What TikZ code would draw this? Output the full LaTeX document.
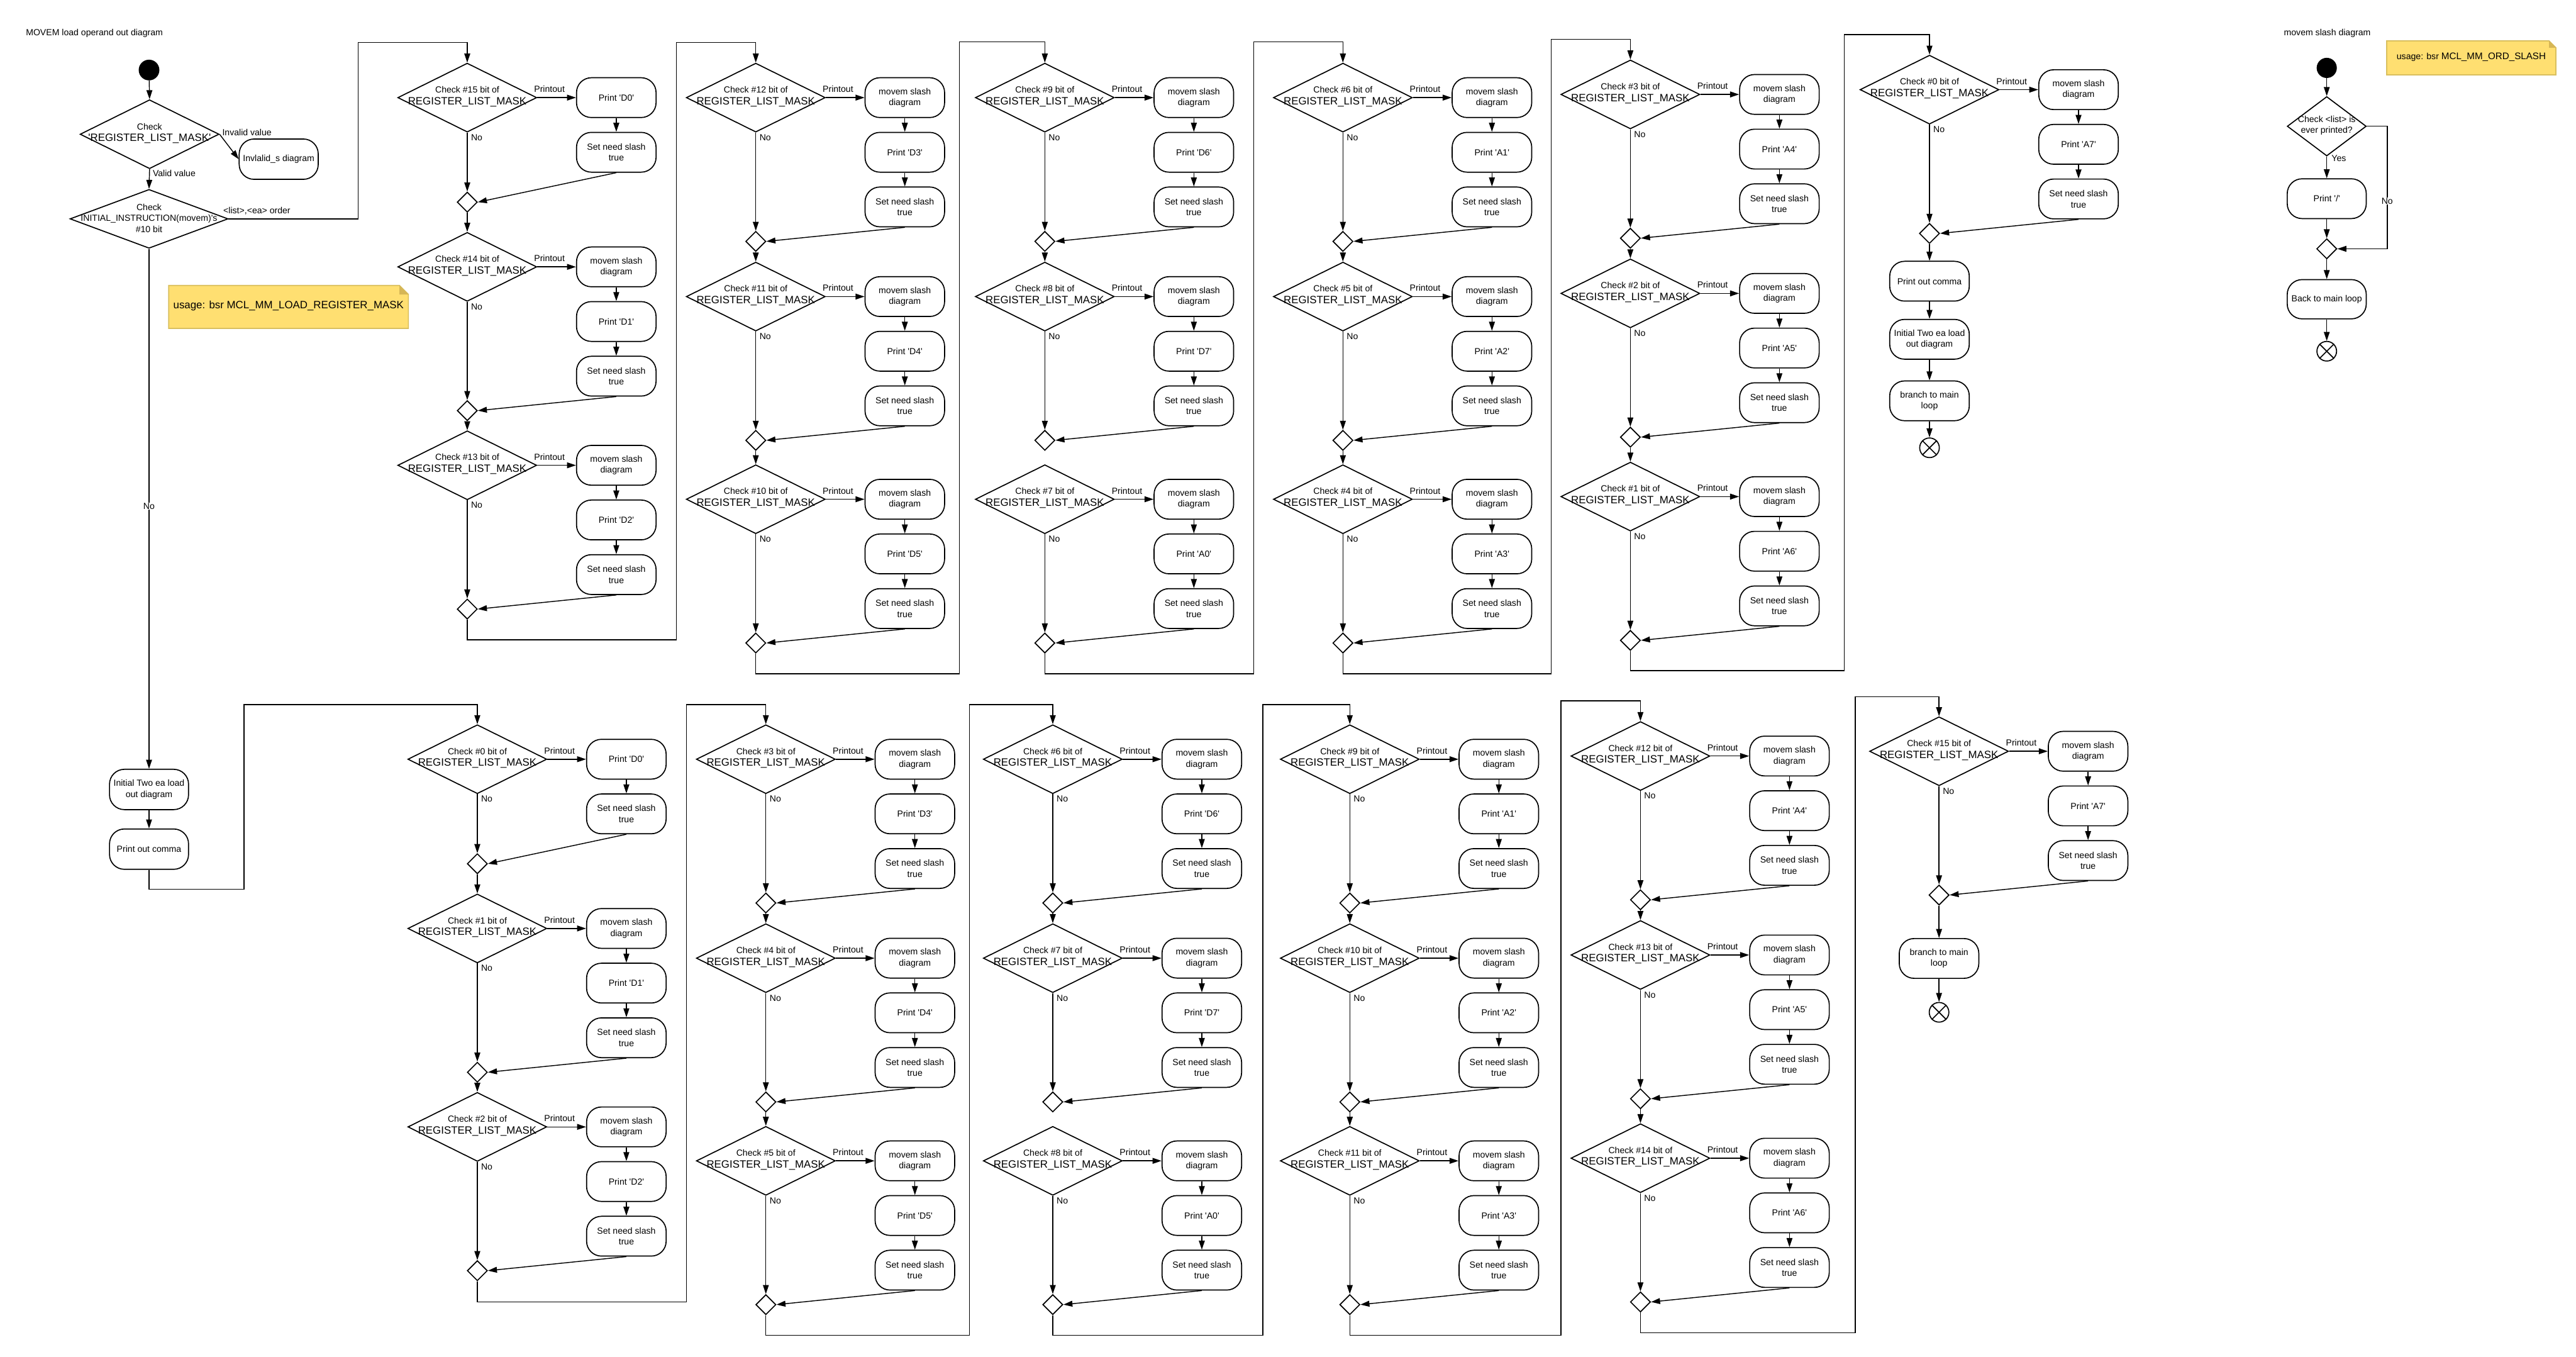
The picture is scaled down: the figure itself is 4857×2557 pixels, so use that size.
\documentclass[tikz,border=0pt]{standalone}
\usepackage{fontspec}
\setmainfont{Liberation Sans}
\usetikzlibrary{arrows.meta,shapes.geometric,calc}
\newcommand{\fs}{\fontsize{16.7}{20.7}\selectfont}
\newcommand{\fr}{\fontsize{20}{24}\selectfont}
\newcommand{\sq}{\textquotesingle}
\definecolor{notefill}{HTML}{FFDF71}
\definecolor{noteline}{HTML}{D9BF5E}
\definecolor{notefold}{HTML}{D6B656}
\tikzset{
  dia/.style={draw, shape=diamond, minimum width=262pt, minimum height=130pt, inner sep=0pt, line width=2pt},
  act/.style={draw, rectangle, rounded corners=28pt, minimum width=150pt, minimum height=75pt, inner sep=0pt, align=center, line width=2pt, font=\fs},
  mrg/.style={draw, shape=diamond, minimum width=38pt, minimum height=38pt, inner sep=0pt, line width=2pt},
  arr/.style={line width=1.7pt, -{Triangle[length=17pt,width=11pt]}},
  lab/.style={font=\fs, inner sep=1pt},
  dtop/.style={font=\fs, inner sep=0pt, align=center},
  dreg/.style={font=\fr, inner sep=0pt},
  startc/.style={circle, fill=black, minimum size=39pt, inner sep=0pt},
  endc/.style={circle, draw, line width=2pt, minimum size=37pt, inner sep=0pt},
}
\newcommand{\blkthree}[5]{%
  \node[dia] (#1) at (#2,#3) {};
  \node[dtop] (#1t) at ($(#1)+(0,-15)$) {Check \##4 bit of};
  \node[dreg] (#1r) at ($(#1)+(0,8)$) {REGISTER\_LIST\_MASK};
  \node[act] (#1a) at ($(#1)+(281,0)$) {movem slash\\diagram};
  \node[act] (#1b) at ($(#1)+(281,103)$) {Print \sq#5\sq};
  \node[act] (#1c) at ($(#1)+(281,206)$) {Set need slash\\true};
  \node[mrg] (#1m) at ($(#1)+(0,271)$) {};
  \draw[arr] (#1.east) -- (#1a.west);
  \draw[arr] (#1a) -- (#1b);
  \draw[arr] (#1b) -- (#1c);
  \draw[arr] (#1.south) -- (#1m.north);
  \draw[arr] (#1c.south) -- (#1m.east);
  \node[lab,anchor=west] (#1p) at ($(#1.east)+(-7,-16)$) {Printout};
  \node[lab,anchor=north west] (#1n) at ($(#1.south)+(6,2)$) {No};
}
\newcommand{\blktwo}[5]{%
  \node[dia] (#1) at (#2,#3) {};
  \node[dtop] (#1t) at ($(#1)+(0,-15)$) {Check \##4 bit of};
  \node[dreg] (#1r) at ($(#1)+(0,8)$) {REGISTER\_LIST\_MASK};
  \node[act] (#1a) at ($(#1)+(281,0)$) {Print \sq#5\sq};
  \node[act] (#1b) at ($(#1)+(281,103)$) {Set need slash\\true};
  \node[mrg] (#1m) at ($(#1)+(0,197)$) {};
  \draw[arr] (#1.east) -- (#1a.west);
  \draw[arr] (#1a) -- (#1b);
  \draw[arr] (#1.south) -- (#1m.north);
  \draw[arr] (#1b.south) -- (#1m.east);
  \node[lab,anchor=west] (#1p) at ($(#1.east)+(-7,-16)$) {Printout};
  \node[lab,anchor=north west] (#1n) at ($(#1.south)+(6,2)$) {No};
}
\begin{document}
\begin{tikzpicture}[x=1pt,y=-1pt]
\fill[white] (0,0) rectangle (4857,2557);
\path[use as bounding box] (0,0) rectangle (4857,2557);

% ---------------- titles
\node[lab] (title1) at (178,63) {MOVEM load operand out diagram};
\node[lab] (title2) at (4388,63) {movem slash diagram};

% ---------------- main entry
\node[startc] (st1) at (281,132) {};
\node[dia] (md1) at (282,253) {};
\node[dtop] (md1t) at (282,239) {Check};
\node[dreg] (md1r) at (282,261) {\sq REGISTER\_LIST\_MASK\sq};
\node[act, minimum width=149pt, minimum height=76pt] (inv) at (525.5,300) {Invlalid\_s diagram};
\node[dia, minimum width=298pt, minimum height=111pt] (md2) at (281,412.5) {};
\node[dtop] (md2t) at (281,411) {Check\\INITIAL\_INSTRUCTION(movem)\sq s\\\#10 bit};
\node[act, minimum width=149pt, minimum height=76pt] (ini1) at (281,1488) {Initial Two ea load\\out diagram};
\node[act, minimum width=149pt, minimum height=76pt] (com1) at (281,1600.5) {Print out comma};

\draw[arr] (st1) -- (md1.north);
\draw[arr] (md1.south) -- (md2.north);
\draw[arr] (md1.east) -- (inv.west);
\draw[arr] (md2.south) -- (ini1.north);
\draw[arr] (ini1) -- (com1);
\node[lab,anchor=west] (liv) at (418,250) {Invalid value};
\node[lab,anchor=west] (lv) at (287,327) {Valid value};
\node[lab,anchor=west] (lo) at (420,397) {<list>,<ea> order};
\node[lab,fill=white] (lno) at (281,954) {No};

% note 1
\path[draw=noteline, fill=notefill, line width=2pt] (318,538) -- (753,538) -- (770,555) -- (770,619) -- (318,619) -- cycle;
\fill[notefold] (753,538) -- (770,555) -- (753,555) -- cycle;
\node[font=\fr, inner sep=0pt] (n1) at (544,576) {usage: bsr MCL\_MM\_LOAD\_REGISTER\_MASK};

% ---------------- top row
\blktwo{t15}{881}{184}{15}{D0}
\blkthree{t14}{881}{503}{14}{D1}
\blkthree{t13}{881}{877}{13}{D2}
\draw[arr] (t15m.south) -- (t14.north);
\draw[arr] (t14m.south) -- (t13.north);

\blkthree{t12}{1425}{184}{12}{D3}
\blkthree{t11}{1425}{559}{11}{D4}
\blkthree{t10}{1425}{941}{10}{D5}
\draw[arr] (t12m.south) -- (t11.north);
\draw[arr] (t11m.south) -- (t10.north);

\blkthree{t9}{1970}{184}{9}{D6}
\blkthree{t8}{1970}{559}{8}{D7}
\blkthree{t7}{1970}{941}{7}{A0}
\draw[arr] (t9m.south) -- (t8.north);

\blkthree{t6}{2532}{184}{6}{A1}
\blkthree{t5}{2532}{559}{5}{A2}
\blkthree{t4}{2532}{941}{4}{A3}
\draw[arr] (t6m.south) -- (t5.north);
\draw[arr] (t5m.south) -- (t4.north);

\blkthree{t3}{3074}{178}{3}{A4}
\blkthree{t2}{3074}{553}{2}{A5}
\blkthree{t1}{3074}{936}{1}{A6}
\draw[arr] (t3m.south) -- (t2.north);
\draw[arr] (t2m.south) -- (t1.north);

\blkthree{t0}{3638}{169}{0}{A7}
\node[act] (com2) at (3638,530) {Print out comma};
\node[act] (ini2) at (3638,639.5) {Initial Two ea load\\out diagram};
\node[act] (br2) at (3638,755.5) {branch to main\\loop};
\node[endc] (en2) at (3638,844) {};
\draw[line width=2pt] (en2.north east) -- (en2.south west) (en2.north west) -- (en2.south east);
\draw[arr] (t0m.south) -- (com2.north);
\draw[arr] (com2) -- (ini2);
\draw[arr] (ini2) -- (br2);
\draw[arr] (br2) -- (en2);

% top connectors between columns
\draw[arr] (md2.east) -- (675,412.5) -- (675,80) -| (t15.north);
\draw[arr] (t13m.south) -- (881,1206) -- (1275,1206) -- (1275,80) -| (t12.north);
\draw[arr] (t10m.south) -- (1425,1270) -- (1809,1270) -- (1809,79) -| (t9.north);
\draw[arr] (t7m.south) -- (1970,1270) -- (2364,1270) -- (2364,79) -| (t6.north);
\draw[arr] (t4m.south) -- (2532,1270) -- (2925,1270) -- (2925,74) -| (t3.north);
\draw[arr] (t1m.south) -- (3074,1264) -- (3477,1264) -- (3477,65) -| (t0.north);

% ---------------- bottom row
\blktwo{b0}{900}{1431}{0}{D0}
\blkthree{b1}{900}{1750}{1}{D1}
\blkthree{b2}{900}{2124}{2}{D2}
\draw[arr] (b0m.south) -- (b1.north);
\draw[arr] (b1m.south) -- (b2.north);

\blkthree{b3}{1444}{1431}{3}{D3}
\blkthree{b4}{1444}{1806}{4}{D4}
\blkthree{b5}{1444}{2188}{5}{D5}
\draw[arr] (b3m.south) -- (b4.north);
\draw[arr] (b4m.south) -- (b5.north);

\blkthree{b6}{1985}{1431}{6}{D6}
\blkthree{b7}{1985}{1806}{7}{D7}
\blkthree{b8}{1985}{2188}{8}{A0}
\draw[arr] (b6m.south) -- (b7.north);

\blkthree{b9}{2545}{1431}{9}{A1}
\blkthree{b10}{2545}{1806}{10}{A2}
\blkthree{b11}{2545}{2188}{11}{A3}
\draw[arr] (b9m.south) -- (b10.north);
\draw[arr] (b10m.south) -- (b11.north);

\blkthree{b12}{3093}{1425}{12}{A4}
\blkthree{b13}{3093}{1800}{13}{A5}
\blkthree{b14}{3093}{2183}{14}{A6}
\draw[arr] (b12m.south) -- (b13.north);
\draw[arr] (b13m.south) -- (b14.north);

\blkthree{b15}{3656}{1416}{15}{A7}
\node[act] (br3) at (3656,1806.5) {branch to main\\loop};
\node[endc] (en3) at (3656,1908) {};
\draw[line width=2pt] (en3.north east) -- (en3.south west) (en3.north west) -- (en3.south east);
\draw[arr] (b15m.south) -- (br3.north);
\draw[arr] (br3) -- (en3);

% bottom connectors
\draw[arr] (com1.south) -- (281,1676) -- (460,1676) -- (460,1328) -| (b0.north);
\draw[arr] (b2m.south) -- (900,2454) -- (1294,2454) -- (1294,1328) -| (b3.north);
\draw[arr] (b5m.south) -- (1444,2517) -- (1828,2517) -- (1828,1328) -| (b6.north);
\draw[arr] (b8m.south) -- (1985,2517) -- (2381,2517) -- (2381,1328) -| (b9.north);
\draw[arr] (b11m.south) -- (2545,2517) -- (2943,2517) -- (2943,1321) -| (b12.north);
\draw[arr] (b14m.south) -- (3093,2512) -- (3498,2512) -- (3498,1313) -| (b15.north);

% ---------------- movem slash diagram
\path[draw=noteline, fill=notefill, line width=2pt] (4500,77) -- (4806,77) -- (4819,90) -- (4819,141) -- (4500,141) -- cycle;
\fill[notefold] (4806,77) -- (4819,90) -- (4806,90) -- cycle;
\node[inner sep=0pt] (n2) at (4659.5,107) {{\fs usage: bsr }{\fontsize{18}{21}\selectfont MCL\_MM\_ORD\_SLASH}};

\node[startc, minimum size=38pt] (st2) at (4387,128) {};
\node[dia, minimum width=149pt, minimum height=112pt] (sd) at (4387,238) {};
\node[dtop] (sdt) at (4387,236.5) {Check <list> is\\ever printed?};
\node[act, minimum width=149pt] (psl) at (4387,374.5) {Print \sq/\sq};
\node[mrg] (sm) at (4387,469) {};
\node[act, minimum width=149pt, minimum height=74pt] (back) at (4387,564) {Back to main loop};
\node[endc] (en1) at (4387,662) {};
\draw[line width=2pt] (en1.north east) -- (en1.south west) (en1.north west) -- (en1.south east);
\draw[arr] (st2) -- (sd.north);
\draw[arr] (sd.south) -- (psl.north);
\draw[arr] (psl) -- (sm.north);
\draw[arr] (sd.east) -- (4501,238) -- (4501,469) -- (sm.east);
\draw[arr] (sm.south) -- (back.north);
\draw[arr] (back) -- (en1);
\node[lab,anchor=west] (lyes) at (4395,298) {Yes};
\node[lab,fill=white] (lno2) at (4501,379) {No};
\end{tikzpicture}
\end{document}
